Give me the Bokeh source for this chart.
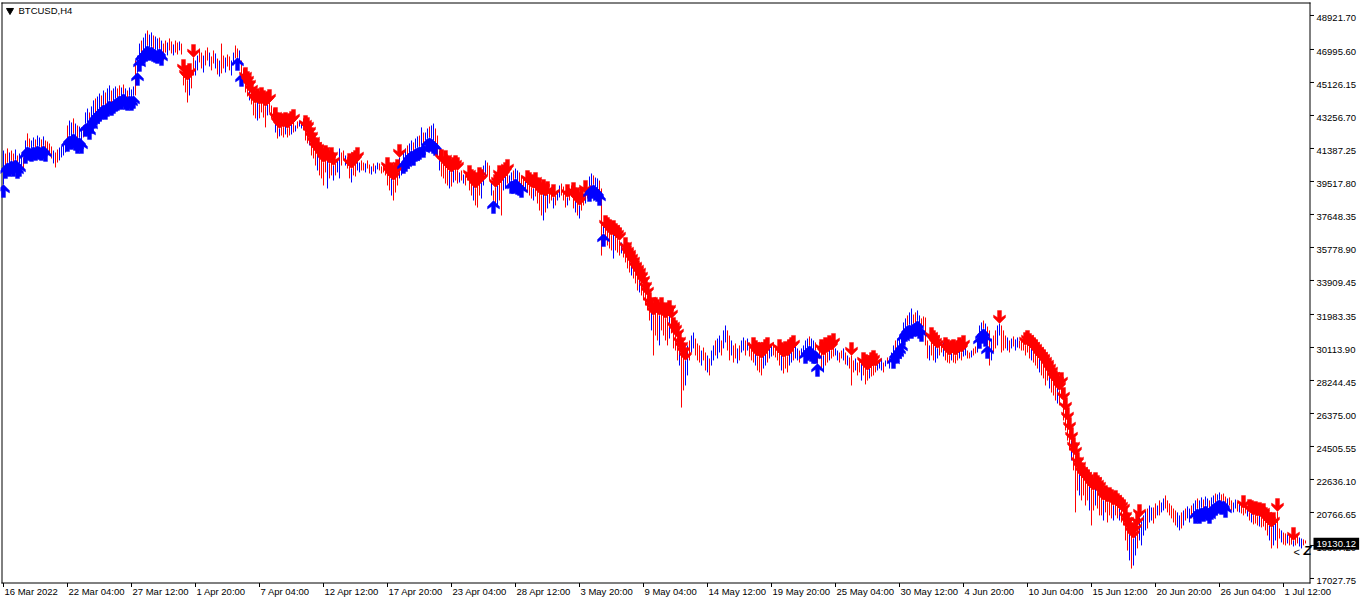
from bokeh.plotting import figure
from bokeh.models import Range1d, Label, ColumnDataSource
from bokeh.embed import file_html
from bokeh.resources import INLINE

# ---------------- data ----------------
SYMBOL = "BTCUSD,H4"
LAST_PRICE = 19130.12

# H4 bar highs / lows in USD, first visible bar (16 Mar 2022) to last bar (3 Jul)
HIGHS = [
    41270, 41100, 41390, 41160, 41270, 41100, 41330, 40990, 41100, 40990,
    40880, 41840, 42240, 41950, 41840, 42010, 41900, 42120, 42010, 41900,
    42070, 41840, 41780, 41670, 41500, 41270, 41160, 41330, 41440, 41500,
    41610, 41840, 42690, 42970, 42860, 43090, 42800, 42690, 42630, 42580,
    42690, 43430, 43650, 43430, 43770, 44110, 44220, 44330, 44500, 44390,
    44670, 44560, 44790, 44960, 44670, 44790, 44900, 44790, 44960, 44840,
    45010, 44790, 44670, 44840, 44730, 44900, 46370, 46650, 47330, 47500,
    47670, 47900, 48070, 47840, 47960, 47790, 47730, 47620, 47670, 47500,
    47330, 47500, 47390, 47620, 47450, 47280, 47500, 47390, 47450, 47330,
    45690, 45350, 45240, 45460, 45810, 46540, 46370, 46650, 47050, 46820,
    46650, 46940, 47110, 46820, 46600, 46940, 46770, 46480, 46370, 47330,
    46650, 46540, 46710, 46600, 46370, 46820, 47220, 47050, 46940, 46370,
    45920, 45240, 45010, 44790, 44500, 44110, 43940, 44050, 43880, 44110,
    43940, 43770, 43880, 43990, 43820, 43650, 42970, 42690, 42520, 42630,
    42580, 42690, 42520, 42630, 42750, 42860, 42690, 42920, 42970, 42860,
    43090, 42520, 42410, 42120, 41840, 41560, 41270, 41160, 40990, 40820,
    40590, 40820, 40710, 40540, 40710, 40420, 40540, 40710, 41390, 41160,
    41270, 40990, 40820, 40370, 40250, 40420, 40540, 40710, 40590, 40710,
    40590, 40540, 40710, 40480, 40370, 40540, 40420, 40590, 40540, 40370,
    40480, 40420, 40140, 39860, 39690, 39570, 39860, 40030, 40880, 40420,
    41270, 41390, 41560, 41670, 41840, 41730, 41950, 42070, 42120, 42580,
    42290, 42290, 42520, 42630, 42690, 42800, 42520, 42120, 41270, 40590,
    40710, 40540, 40250, 40140, 40030, 40140, 40250, 40140, 40030, 40140,
    39910, 39860, 40030, 39690, 39460, 39290, 39120, 39290, 39570, 39460,
    40420, 40710, 40590, 40420, 39460, 39010, 39180, 39290, 39690, 39570,
    39690, 39860, 40030, 39860, 40030, 40140, 40250, 40140, 40030, 39860,
    39690, 39570, 39400, 39290, 39180, 39120, 39290, 39010, 38890, 38720,
    38890, 38670, 38780, 39010, 39120, 38610, 38720, 39010, 39290, 39400,
    39230, 39010, 38610, 39010, 39290, 38720, 38440, 38330, 38160, 38440,
    38720, 38840, 39120, 39800, 39970, 39860, 39740, 39690, 39570, 39120,
    37190, 36850, 36740, 36630, 36460, 36570, 36400, 36290, 36170, 36060,
    35890, 35610, 35320, 35150, 34930, 34760, 34480, 34310, 34140, 33910,
    33680, 33340, 33060, 32490, 32210, 31930, 32210, 32100, 31930, 32210,
    31930, 31760, 31870, 32040, 31760, 31080, 30910, 30680, 30230, 29940,
    29660, 29380, 30230, 30510, 30790, 30960, 30620, 30340, 30230, 29940,
    30110, 29830, 29660, 29490, 29940, 30230, 30510, 30620, 30790, 30510,
    31080, 31360, 31080, 30790, 30510, 30230, 30340, 30060, 30230, 30510,
    30680, 30510, 30620, 30400, 30230, 29940, 29770, 29600, 29660, 29490,
    29660, 29830, 29940, 30060, 30230, 30400, 30230, 30060, 29830, 29660,
    29550, 29720, 29600, 29830, 29940, 30060, 30170, 30060, 29940, 30060,
    30230, 30510, 30620, 30740, 30620, 30510, 30400, 29830, 30230, 29830,
    29660, 29940, 29830, 30060, 29940, 30170, 30060, 29940, 29830, 29940,
    30060, 29830, 29660, 29550, 29660, 29380, 29490, 29260, 29380, 29210,
    29090, 28980, 28810, 28920, 29090, 29210, 29040, 29260, 29380, 29490,
    29260, 29380, 29550, 29490, 29830, 30230, 30510, 30620, 30790, 30910,
    31530, 31760, 31930, 32100, 32320, 31980, 32100, 32210, 31930, 31760,
    31870, 31810, 30510, 30230, 30510, 30340, 30170, 30060, 30230, 30510,
    30400, 29940, 29830, 29660, 29770, 29830, 29660, 29770, 29940, 29830,
    30060, 30230, 29940, 29830, 29940, 30060, 30170, 30510, 31360, 31530,
    31640, 31470, 31300, 31080, 30620, 30790, 31080, 31360, 31470, 31360,
    31080, 30790, 30680, 30510, 30620, 30740, 30570, 30680, 30510, 30620,
    30510, 30230, 30340, 30170, 30060, 29940, 29830, 29660, 29490, 29380,
    29260, 29090, 28920, 28700, 28530, 28240, 28070, 27960, 27680, 27960,
    27110, 26540, 25980, 25410, 24840, 24280, 23990, 23430, 23150, 22860,
    22690, 22580, 22460, 22290, 22130, 22010, 22290, 22130, 22010, 21730,
    21450, 21560, 21330, 21450, 21330, 21160, 21280, 21110, 20990, 20880,
    20770, 20310, 20030, 19750, 19460, 19290, 19630, 20030, 20480, 20310,
    20600, 20880, 20990, 21160, 21050, 21050, 21280, 21160, 21450, 21330,
    21560, 21730, 21450, 21280, 21160, 20990, 20880, 20770, 20600, 20770,
    20880, 20990, 21110, 20990, 21160, 21280, 21450, 21560, 21450, 21620,
    21500, 21670, 21560, 21450, 21620, 21730, 21840, 21790, 21900, 21790,
    21840, 21670, 21560, 21620, 21450, 21330, 21500, 21390, 21280, 21160,
    20990, 21110, 20990, 20770, 20710, 20600, 20650, 20540, 20600, 20480,
    20540, 20310, 20140, 20030, 19920, 20030, 20200, 20820, 19860, 19750,
    19630, 19580, 19520, 19460, 19410, 19180, 19350, 19460, 19350, 19290,
    19240, 19180,
]
LOWS = [
    39350, 40420, 40590, 40540, 40710, 40540, 40760, 40420, 40540, 40370,
    40250, 41270, 41500, 41440, 41390, 41500, 41440, 41560, 41500, 41440,
    41560, 41390, 41270, 41100, 40820, 40540, 40310, 40590, 40710, 40880,
    40990, 41160, 41950, 42120, 42070, 42240, 42010, 41840, 42010, 41840,
    42010, 42800, 42860, 42630, 42970, 43260, 43430, 43540, 43650, 43770,
    43880, 43770, 43940, 44110, 43990, 44110, 44220, 44280, 44390, 44330,
    44500, 44330, 44280, 44390, 44280, 44390, 44390, 45690, 46490, 46820,
    46940, 47050, 47220, 47110, 47160, 47050, 46990, 46940, 47050, 46820,
    46370, 46820, 46660, 46940, 46770, 46660, 46820, 46710, 46940, 46710,
    44960, 44560, 43990, 44390, 44790, 45520, 45520, 45810, 46260, 45920,
    45690, 46090, 46370, 46030, 45810, 46200, 45920, 45580, 45460, 45640,
    45920, 45690, 46030, 45810, 45520, 46090, 46490, 46540, 46260, 45640,
    45130, 44560, 44330, 44110, 43880, 43260, 43090, 42970, 43090, 43430,
    43140, 42580, 43260, 43430, 43090, 42970, 42290, 41950, 42070, 42120,
    42010, 42180, 42010, 42120, 42180, 42290, 42350, 42520, 42630, 42520,
    42410, 41840, 41670, 41560, 40990, 40820, 40420, 40140, 39860, 39690,
    39290, 40030, 39120, 39690, 39860, 39570, 39860, 40030, 39690, 40420,
    40710, 40420, 40250, 39690, 39460, 39860, 39800, 40140, 40030, 40140,
    40140, 40030, 40250, 39970, 39910, 40080, 39970, 40200, 40140, 39970,
    40030, 39860, 39290, 39010, 38720, 38440, 38890, 39290, 39690, 39860,
    40710, 40820, 40990, 41160, 41270, 41160, 41390, 41440, 41500, 41560,
    41610, 41840, 41950, 42010, 41950, 41840, 41730, 40820, 40140, 39800,
    39690, 39400, 39290, 39120, 39230, 39460, 39570, 39400, 39460, 39570,
    39400, 39290, 39570, 39010, 38720, 38440, 38160, 38040, 38720, 38550,
    39290, 39690, 39860, 39570, 38720, 38440, 38270, 38160, 38440, 37590,
    39010, 39120, 39400, 39290, 39570, 39570, 39690, 39520, 39460, 39350,
    39120, 39010, 38890, 38720, 38550, 38440, 38670, 38270, 37870, 37590,
    37310, 37760, 37990, 38270, 38440, 37990, 38160, 38440, 38610, 38720,
    38440, 38040, 38160, 38440, 38670, 37990, 37760, 37590, 37420, 37870,
    38160, 38270, 38550, 39120, 39290, 39350, 39230, 39120, 38890, 35320,
    36570, 36170, 35890, 35720, 35610, 35150, 35610, 35490, 35320, 35440,
    35210, 34930, 34590, 34360, 34190, 34020, 33740, 33340, 33230, 33060,
    32780, 32490, 32210, 31640, 31080, 29660, 30790, 30510, 30230, 31080,
    30790, 30510, 30230, 30620, 30910, 30060, 29940, 29380, 29090, 26710,
    27680, 27960, 28530, 29380, 29830, 30060, 29660, 29380, 29260, 29090,
    29380, 28810, 28700, 28530, 29090, 29380, 29660, 29490, 29830, 29660,
    30060, 30400, 29940, 29380, 29660, 29260, 29490, 29210, 29380, 29830,
    29940, 29660, 29940, 29600, 29380, 29260, 29090, 28810, 28700, 28530,
    28920, 29090, 29260, 29490, 29600, 29660, 29550, 29380, 29090, 28810,
    28640, 28920, 28700, 29090, 29260, 29380, 29490, 29380, 29260, 29550,
    29600, 29940, 30110, 30230, 30060, 29940, 29940, 29210, 29490, 28920,
    28700, 29090, 29260, 29380, 29490, 29600, 29660, 29380, 29260, 29490,
    29380, 29150, 29090, 28920, 27960, 28700, 28810, 28530, 28700, 28240,
    28530, 28020, 28240, 28360, 28470, 28530, 28700, 28810, 28920, 28810,
    28700, 29040, 29210, 28920, 29260, 29660, 29940, 30060, 30230, 30400,
    30960, 31190, 31360, 31420, 31360, 31470, 31530, 31640, 31360, 31190,
    31300, 30230, 29490, 29380, 29660, 29380, 29260, 29490, 29660, 29830,
    29600, 29380, 29260, 29210, 29380, 29260, 29210, 29380, 29490, 29380,
    29600, 29660, 29490, 29490, 29550, 29660, 29770, 29830, 30790, 31080,
    31190, 30910, 30230, 29090, 29380, 29830, 30060, 30230, 30790, 29830,
    29940, 30060, 29940, 29830, 30060, 30170, 29940, 30110, 30060, 29940,
    29940, 29660, 29830, 29490, 29380, 29260, 29090, 28920, 28700, 28530,
    28360, 27960, 28240, 27790, 27560, 27390, 27110, 26940, 26830, 27220,
    25980, 25410, 24840, 24280, 23710, 23150, 20770, 22010, 21730, 21450,
    21730, 21160, 21450, 20880, 20030, 20880, 21160, 20990, 20600, 20600,
    20310, 20770, 20200, 20600, 20430, 20310, 20600, 20430, 20310, 20200,
    20030, 19180, 18610, 18050, 17590, 17760, 18330, 18730, 19180, 18900,
    19460, 19750, 19860, 20200, 20310, 20140, 20430, 20600, 20600, 20770,
    20880, 20990, 20770, 20600, 20430, 20200, 20030, 19920, 19750, 19860,
    20030, 20310, 20430, 20200, 20430, 20600, 20880, 20990, 20880, 21050,
    20990, 21160, 21050, 20880, 21110, 21280, 21330, 21450, 21500, 21390,
    21450, 21220, 21110, 21160, 20880, 20770, 20990, 20820, 20770, 20710,
    20600, 20710, 20540, 20310, 20200, 20090, 20140, 20030, 19970, 19920,
    19970, 19750, 19460, 19180, 18730, 18900, 19180, 18730, 19290, 19070,
    18950, 18900, 19010, 18900, 18950, 18840, 18900, 19010, 18840, 18730,
    18900, 19010,
]
# bar colour: u = bullish (blue), d = bearish (red)
DIRECTION = (
    "uddudduduu" "dudduuduud" "uddddudduu" "uuduududuu" "duuduuduud"
    "uduuduuddu" "duduuuduud" "uuduuduudu" "ddudduddud" "dddudduudd"
    "udduddudud" "dudduuddud" "dddudddudd" "ddudddudud" "duddududuu"
    "dddudddudd" "ddudduduud" "duddudduud" "dudduduudd" "dddduddduu"
    "uuduuduudu" "duuduuddud" "dddududdud" "uddddudddu" "uudduddudd"
    "uuduuduudd" "dudddudddd" "ududduduud" "ddudddudud" "duduuduudd"
    "uddddudddu" "ddddudddud" "ddddudddud" "ddduddddud" "duuduudddu"
    "dduduuduud" "uudduddudu" "ududdduddd" "uuduuddddu" "ddduuduudu"
    "uuuduudddd" "uddudduudd" "ududdduddu" "ddduddduuu" "duduuuduuu"
    "uuduudduud" "dddudduudd" "udddudddud" "uuddudduuu" "duddudduud"
    "ddududuudd" "ddddudddud" "dddudddudd" "ddddudddud" "dddudduddd"
    "udddduddud" "ddduduuduu" "uuduuddudu" "udddddduud" "uduuduuduu"
    "duuduuduud" "ddudduudud" "ddududddud" "ddduduuddu" "dduddudduu"
    "dd"
)
# indicator signals: ^ = buy arrow under the bar, v = sell arrow over the bar
SIGNALS = (
    "^^^^^^^^^." ".^^^^^^^^^" "^^........" "..^^^^^^^^" ".^^^^^^^^^"
    "^^^^^^^^^^" "^^^^^^.^^^" "^^^^^^^^^^" ".........." "vvvv.v...."
    ".........." ".......^.^" ".vvvvvvvvv" "vvvv..vvvv" "vvvvvv...."
    ".vvvvvvvvv" "vvvvvv...." "...vvvvv.." ".........." "..vvvvvvv."
    "^^^^^^^^^." "^.^^^^^..v" ".vvvvvvv.." "...vvvvvvv" ".....^vvvv"
    "vvv.^^^^^^" "..vvvvvvvv" "vvv..v...." "..v..vvvvv" ".v.^^^^^^."
    "^vvvvvvvv." ".vvvvvvvvv" "vvvvvvvvvv" "vvvvvvvvvv" "vv........"
    ".........." ".........." ".....vvvvv" "vvv.....vv" "vvvvvv...."
    ".^^^^^^^.v" "vvvvvv...." "....v....." "vvvvvvv..." ".....^^^^^"
    "^^^^^^^^^^" "....vvvv.." ".vvvvvvvvv" "v.......^^" "^^^.....v."
    ".........." ".vvvvvvvvv" "vvvvvvvvvv" "vvvvvvvvvv" "vvvvvvvvvv"
    "vvvvvvvvvv" "vvvvvvvvv." ".........." ".........." "......^^^^"
    "^^^^^^^^^^" "^^........" "v..vvvvvvv" "vvvvvv.v.." ".....v...."
    ".."
)
X_TICK_BARS = [0, 32, 64, 96, 128, 160, 192, 224, 256, 288, 320,
               352, 384, 416, 448, 480, 512, 544, 576, 608, 640]
X_TICK_LABELS = ["16 Mar 2022", "22 Mar 04:00", "27 Mar 12:00", "1 Apr 20:00",
                 "7 Apr 04:00", "12 Apr 12:00", "17 Apr 20:00", "23 Apr 04:00",
                 "28 Apr 12:00", "3 May 20:00", "9 May 04:00", "14 May 12:00",
                 "19 May 20:00", "25 May 04:00", "30 May 12:00", "4 Jun 20:00",
                 "10 Jun 04:00", "15 Jun 12:00", "20 Jun 20:00", "26 Jun 04:00",
                 "1 Jul 12:00"]
Y_TICKS = [48921.70, 46995.60, 45126.15, 43256.70, 41387.25, 39517.80,
           37648.35, 35778.90, 33909.45, 31983.35, 30113.90, 28244.45,
           26375.00, 24505.55, 22636.10, 20766.65, 18897.20, 17027.75]

# ---------------- layout / style ----------------
W, H = 1362, 603
BARS_PER_PX = 0.5          # 2 px per H4 bar
USD_PER_PX = 56.65         # price scale of the chart
X_START = -1.5             # bar 0 on pixel column 3
X_END = X_START + W * BARS_PER_PX
Y_TOP = 49770.0
Y_BOTTOM = Y_TOP - H * USD_PER_PX
# chart box (page pixels)
BOX_L, BOX_R, BOX_T, BOX_B = 1.5, 1309.5, 2.5, 582.5
BLUE, RED = "#0000FF", "#FF0000"
FONT = "Liberation Sans"
FSIZE = "9.5px"


def dx(xp):
    return X_START + xp * BARS_PER_PX


def dy(yp):
    return Y_TOP - yp * USD_PER_PX


p = figure(width=W, height=H, x_range=Range1d(X_START, X_END),
           y_range=Range1d(Y_BOTTOM, Y_TOP),
           x_axis_location=None, y_axis_location=None,
           toolbar_location=None, output_backend="svg",
           min_border=0, min_border_left=0, min_border_right=0,
           min_border_top=0, min_border_bottom=0,
           background_fill_color="white", border_fill_color="white",
           outline_line_color=None)
p.xgrid.visible = False
p.ygrid.visible = False

# ---------------- chart box ----------------
p.segment(x0=[dx(BOX_L), dx(BOX_L - 0.5), dx(BOX_L - 0.5), dx(BOX_R)],
          y0=[dy(BOX_T - 0.5), dy(BOX_T), dy(BOX_B), dy(BOX_T - 0.5)],
          x1=[dx(BOX_L), dx(BOX_R + 0.5), dx(BOX_R + 0.5), dx(BOX_R)],
          y1=[dy(BOX_B + 0.5), dy(BOX_T), dy(BOX_B), dy(BOX_B + 0.5)],
          line_color="black", line_width=1)

# ---------------- bars ----------------
n = len(HIGHS)
idx = list(range(n))
bar_src = ColumnDataSource(dict(
    x=idx, high=HIGHS, low=LOWS,
    color=[BLUE if d == "u" else RED for d in DIRECTION[:n]],
))
p.segment(x0="x", y0="low", x1="x", y1="high", line_color="color",
          line_width=1, source=bar_src)

# ---------------- signal arrows ----------------
ARROW = [(0, 0), (6, 6), (6, 8.5), (2, 6), (2, 13), (-2, 13), (-2, 6), (-6, 8.5), (-6, 6)]
axs, ays, acols = [], [], []
for i, s in enumerate(SIGNALS[:n]):
    if s == "^":
        axs.append([i + ax * BARS_PER_PX for ax, ay in ARROW])
        ays.append([LOWS[i] - ay * USD_PER_PX for ax, ay in ARROW])
        acols.append(BLUE)
    elif s == "v":
        axs.append([i + ax * BARS_PER_PX for ax, ay in ARROW])
        ays.append([HIGHS[i] + ay * USD_PER_PX for ax, ay in ARROW])
        acols.append(RED)
arrow_src = ColumnDataSource(dict(xs=axs, ys=ays, color=acols))
p.patches(xs="xs", ys="ys", fill_color="color", line_color="color",
          line_alpha=0.4, line_width=1, source=arrow_src)

# ---------------- time axis ----------------
p.segment(x0=X_TICK_BARS, x1=X_TICK_BARS,
          y0=[dy(BOX_B)] * len(X_TICK_BARS), y1=[dy(BOX_B + 4)] * len(X_TICK_BARS),
          line_color="black", line_width=1)
for b, t in zip(X_TICK_BARS, X_TICK_LABELS):
    p.add_layout(Label(x=b, y=dy(591), text=t, x_offset=1, text_align="left",
                       text_baseline="middle", text_font=FONT,
                       text_font_size=FSIZE, text_color="black"))

# ---------------- price axis ----------------
p.segment(x0=[dx(BOX_R)] * len(Y_TICKS), x1=[dx(BOX_R + 4)] * len(Y_TICKS),
          y0=Y_TICKS, y1=Y_TICKS, line_color="black", line_width=1)
for v in Y_TICKS:
    p.add_layout(Label(x=dx(1316), y=v - 3 * USD_PER_PX, text=f"{v:.2f}",
                       text_align="left", text_baseline="middle", text_font=FONT,
                       text_font_size=FSIZE, text_color="black"))

# ---------------- header ----------------
p.scatter(x=[dx(9.5)], y=[dy(10)], marker="inverted_triangle", size=7, color="black")
p.add_layout(Label(x=dx(18), y=dy(10), text=SYMBOL, text_align="left",
                   text_baseline="middle", text_font=FONT,
                   text_font_size=FSIZE, text_color="black"))

# ---------------- last-price marker ----------------
p.add_layout(Label(x=dx(1293), y=dy(551), text="<", text_align="left",
                   text_baseline="middle", text_font=FONT,
                   text_font_size="11px", text_color="black"))
p.add_layout(Label(x=dx(1303), y=dy(550), text="Z", text_align="left",
                   text_baseline="middle", text_font=FONT,
                   text_font_size="13px", text_font_style="bold italic",
                   text_color="black"))
p.add_layout(Label(x=dx(1313), y=LAST_PRICE - 2.5 * USD_PER_PX,
                   text=f"{LAST_PRICE:.2f}",
                   text_align="left", text_baseline="middle", text_font=FONT,
                   text_font_size=FSIZE, text_color="white",
                   background_fill_color="black", padding=3))

html = file_html(p, INLINE, title="BTCUSD,H4")
html = html.replace("<head>", "<head><style>html,body{margin:0;padding:0;overflow:hidden;}</style>", 1)
open("out.html", "w").write(html)
